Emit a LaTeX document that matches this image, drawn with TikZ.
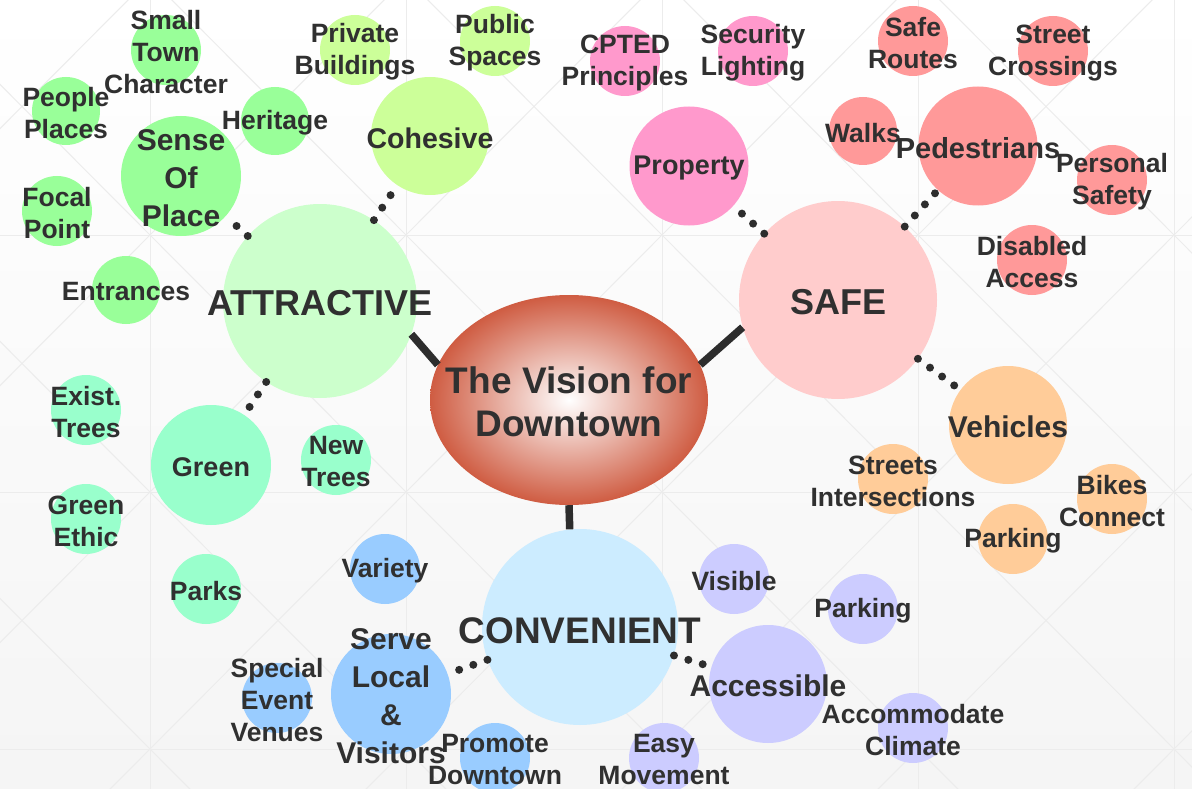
\documentclass[tikz,border=0pt]{standalone}
\usepackage{fontspec}
\setmainfont{Liberation Sans}
\usepackage{tikz}
\usetikzlibrary{shapes.geometric}
\definecolor{cText}{RGB}{48,48,48}
\definecolor{cLine}{RGB}{45,45,45}
\definecolor{cGrid}{RGB}{236,236,236}
\definecolor{cVision}{RGB}{207,92,66}
\definecolor{cAttr}{RGB}{204,255,204}
\definecolor{cPlace}{RGB}{153,255,153}
\definecolor{cCohes}{RGB}{204,255,153}
\definecolor{cGreen}{RGB}{153,255,204}
\definecolor{cSafe}{RGB}{255,204,204}
\definecolor{cProp}{RGB}{255,153,204}
\definecolor{cPed}{RGB}{255,153,153}
\definecolor{cVeh}{RGB}{255,204,153}
\definecolor{cConv}{RGB}{204,236,255}
\definecolor{cServe}{RGB}{153,204,255}
\definecolor{cAcc}{RGB}{204,204,255}
\begin{document}
\begin{tikzpicture}
    [x=1pt,y=-1pt,
     bub/.style={circle,inner sep=0pt,minimum size=#1},
     leaf/.style={text=cText,align=center,inner sep=0pt,yshift=-2pt,font=\bfseries\fontsize{26.5}{32}\selectfont},
     mid/.style={text=cText,align=center,inner sep=0pt,yshift=-2pt,font=\bfseries\fontsize{#1}{38}\selectfont},
     mid/.default=30,
     big/.style={text=cText,align=center,inner sep=0pt,yshift=-2pt,font=\bfseries\fontsize{36}{43}\selectfont},
     link/.style={draw=cLine,line width=7.5pt},
     dotlink/.style={draw=cLine,line width=8pt,line cap=round,dash pattern=on 0pt off 15pt},
     gridline/.style={draw=cGrid,line width=1pt}]
\useasboundingbox (0,0) rectangle (1192,789);
%background
\shade[top color=white,middle color=white,bottom color=black!4] (0,0) rectangle (1192,789);
\begin{scope}
  \clip (0,0) rectangle (1192,789);
  \foreach \gx in {-106,150,406,662,918,1174}{
    \draw[gridline] (\gx,0) -- (\gx,789);
    \foreach \gy in {-22,235,492,749}
      \draw[gridline] (\gx,\gy) -- ++(256,257) (\gx+256,\gy) -- ++(-256,257);
  }
  \foreach \gy in {-22,235,492,749}
    \draw[gridline] (0,\gy) -- (1192,\gy);
\end{scope}

%attractive
\node[bub=194,fill=cAttr,label={[big]center:ATTRACTIVE}] (attr) at (320,301) {};
\node[bub=120,fill=cPlace,label={[mid]center:Sense\\Of\\Place}] (sense) at (181,176) {};
\node[bub=70,fill=cPlace,label={[leaf]center:Small\\Town\\Character}] (town) at (166,50) {};
\node[bub=68,fill=cPlace,label={[leaf]center:People\\Places}] (people) at (66,111) {};
\node[bub=70,fill=cPlace,label={[leaf]center:Focal\\Point}] (focal) at (57,211) {};
\node[bub=68,fill=cPlace,label={[leaf]center:Heritage}] (heritage) at (275,121) {};
\node[bub=68,fill=cPlace,label={[leaf]center:Entrances}] (entrances) at (126,290) {};
\node[bub=118,fill=cCohes,label={[mid=28.5]center:Cohesive}] (cohesive) at (430,136) {};
\node[bub=70,fill=cCohes,label={[leaf]center:Private\\Buildings}] (private) at (355,50) {};
\node[bub=70,fill=cCohes,label={[leaf]center:Public\\Spaces}] (public) at (495,41) {};
\node[bub=120,fill=cGreen,label={[mid=27]center:Green}] (grn) at (211,465) {};
\node[bub=70,fill=cGreen,label={[leaf]center:Exist.\\Trees}] (exist) at (86,410) {};
\node[bub=70,fill=cGreen,label={[leaf]center:Green\\Ethic}] (ethic) at (86,519) {};
\node[bub=70,fill=cGreen,label={[leaf]center:New\\Trees}] (newtrees) at (336,460) {};
\node[bub=70,fill=cGreen,label={[leaf]center:Parks}] (parks) at (206,589) {};

%safe
\node[bub=198,fill=cSafe,label={[big]center:SAFE}] (safe) at (838,300) {};
\node[bub=119,fill=cProp,label={[mid=27]center:Property}] (property) at (689,166) {};
\node[bub=70,fill=cProp,label={[leaf]center:CPTED\\Principles}] (cpted) at (625,61) {};
\node[bub=70,fill=cProp,label={[leaf]center:Security\\Lighting}] (lighting) at (753,51) {};
\node[bub=68,fill=cPed,label={[leaf]center:Walks}] (walks) at (863,131) {};
\node[bub=119,fill=cPed,label={[mid=29]center:Pedestrians}] (peds) at (978,146) {};
\node[bub=70,fill=cPed,label={[leaf]center:Safe\\Routes}] (routes) at (913,41) {};
\node[bub=70,fill=cPed,label={[leaf]center:Street\\Crossings}] (crossings) at (1053,51) {};
\node[bub=70,fill=cPed,label={[leaf]center:Personal\\Safety}] (personal) at (1112,180) {};
\node[bub=70,fill=cPed,label={[leaf]center:Disabled\\Access}] (disabled) at (1032,260) {};
\node[bub=118,fill=cVeh,label={[mid]center:Vehicles}] (vehicles) at (1008,425) {};
\node[bub=70,fill=cVeh,label={[leaf]center:Streets\\Intersections}] (streets) at (893,479) {};
\node[bub=70,fill=cVeh,label={[leaf]center:Bikes\\Connect}] (bikes) at (1112,499) {};
\node[bub=70,fill=cVeh,label={[leaf]center:Parking}] (vparking) at (1013,539) {};

%convenient
\node[bub=196,fill=cConv,label={[big,yshift=-2pt,font=\bfseries\fontsize{37}{43}\selectfont]center:CONVENIENT}] (conv) at (580,627) {};
\node[bub=120,fill=cServe,label={[mid]center:Serve\\Local\\\&\\Visitors}] (serve) at (391,694) {};
\node[bub=70,fill=cServe,label={[leaf]center:Variety}] (variety) at (385,569) {};
\node[bub=70,fill=cServe,label={[leaf]center:Special\\Event\\Venues}] (special) at (277,698) {};
\node[bub=70,fill=cServe,label={[leaf]center:Promote\\Downtown}] (promote) at (495,758) {};
\node[bub=118,fill=cAcc,label={[mid]center:Accessible}] (access) at (768,684) {};
\node[bub=70,fill=cAcc,label={[leaf]center:Visible}] (visible) at (734,579) {};
\node[bub=70,fill=cAcc,label={[leaf]center:Parking}] (cparking) at (863,609) {};
\node[bub=70,fill=cAcc,label={[leaf]center:Accommodate\\Climate}] (accom) at (913,728) {};
\node[bub=70,fill=cAcc,label={[leaf]center:Easy\\Movement}] (easy) at (664,758) {};

%centre
\node[ellipse,inner sep=0pt,minimum width=278,minimum height=210,inner color=white,outer color=cVision,
      label={[big,font=\bfseries\fontsize{37}{43}\selectfont]center:The Vision for\\Downtown}] (vision) at (569,400) {};

\draw[link] (vision.165) -- (attr.-20);
\draw[link] (vision.15) -- (safe.196);
\draw[link] (vision.south) -- (conv.96);

\draw[dotlink] (attr) -- (sense);
\draw[dotlink] (attr) -- (cohesive);
\draw[dotlink] (attr) -- (grn);
\draw[dotlink] (safe) -- (property);
\draw[dotlink] (safe) -- (peds);
\draw[dotlink] (safe) -- (vehicles);
\draw[dotlink] (conv) -- (serve);
\draw[dotlink] (conv) -- (access);
\end{tikzpicture}
\end{document}
